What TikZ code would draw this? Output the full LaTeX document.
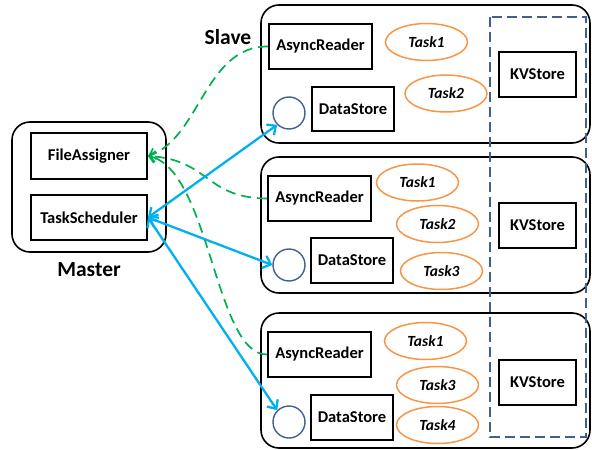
\documentclass[tikz,border=0pt]{standalone}
\usepackage{fontspec}
\setmainfont{Carlito}
\usetikzlibrary{arrows.meta,shapes.geometric}

\definecolor{feedgreen}{RGB}{0,176,80}
\definecolor{linkblue}{RGB}{0,176,240}
\definecolor{taskorange}{RGB}{247,150,70}
\definecolor{storeblue}{RGB}{65,95,145}

\tikzset{box/.style={draw,line width=2pt,inner sep=0pt,font=\bfseries\fontsize{16.5}{18}\selectfont},
  frame/.style={draw,line width=1.6pt,rounded corners=18pt,inner sep=0pt},
  task/.style={ellipse,draw=taskorange,line width=1.5pt,minimum width=82,minimum height=37,inner sep=0pt,font=\bfseries\itshape\fontsize{15.5}{18}\selectfont},
  store/.style={circle,draw=storeblue,line width=1.4pt,minimum size=32,inner sep=0pt},
  title/.style={font=\bfseries\fontsize{21.5}{24}\selectfont,inner sep=0pt},
  link/.style={linkblue,line width=2.3pt,{Straight Barb[length=7pt,width=13pt]}-{Straight Barb[length=7pt,width=13pt]}},
  feed/.style={feedgreen,line width=1.7pt,dash pattern=on 10pt off 6pt,-{Straight Barb[length=6pt,width=11pt]}}}

\begin{document}
\begin{tikzpicture}[x=1pt,y=-1pt]
                  \useasboundingbox (0,0) rectangle (592,450);
                  \node[frame,minimum width=329,minimum height=138] (slave1) at (425.5,74) {};
                  \node[frame,minimum width=329,minimum height=136] (slave2) at (425.5,225) {};
                  \node[frame,minimum width=329,minimum height=135] (slave3) at (425.5,380.5) {};
                  \node[frame,minimum width=154,minimum height=130] (master) at (89,187) {};
                  \draw[storeblue,line width=1.5pt,dash pattern=on 10pt off 5pt] (490,17) rectangle (586,437);
                  \node[title] (mastertxt) at (89,270) {Master};
                  \node[title] (slavetxt) at (228,37) {Slave};
                  \node[box,minimum width=116,minimum height=46] (fa) at (89,156) {FileAssigner};
                  \node[box,minimum width=116,minimum height=45] (ts) at (89,217.5) {TaskScheduler};

                  \node[box,minimum width=103,minimum height=45] (ar1) at (320.5,46.5) {AsyncReader};
                  \node[box,minimum width=82,minimum height=44] (ds1) at (353,109) {DataStore};
                  \node[store] (c1) at (289,113) {};
                  \node[task] (t11) at (426.5,42) {Task1};
                  \node[task] (t12) at (446,93.5) {Task2};
                  \node[box,minimum width=77,minimum height=45] (kv1) at (537.5,74.5) {KVStore};

                  \node[box,minimum width=103,minimum height=45] (ar2) at (319.5,198.5) {AsyncReader};
                  \node[box,minimum width=82,minimum height=45] (ds2) at (352,260.5) {DataStore};
                  \node[store] (c2) at (289,265) {};
                  \node[task] (t21) at (417.5,182.5) {Task1};
                  \node[task] (t22) at (437.5,224) {Task2};
                  \node[task] (t23) at (441.5,271) {Task3};
                  \node[box,minimum width=77,minimum height=45] (kv2) at (537.5,225.5) {KVStore};

                  \node[box,minimum width=103,minimum height=45] (ar3) at (319.5,354.5) {AsyncReader};
                  \node[box,minimum width=82,minimum height=45] (ds3) at (352,417.5) {DataStore};
                  \node[store] (c3) at (289,422) {};
                  \node[task] (t31) at (425.5,341) {Task1};
                  \node[task] (t33) at (437.5,385) {Task3};
                  \node[task] (t34) at (437.5,425) {Task4};
                  \node[box,minimum width=77,minimum height=45] (kv3) at (537.5,382.5) {KVStore};

                  \draw[feed] (ar1.west) .. controls (205,46) and (200,138) .. (fa.east);
                  \draw[feed] (ar2.west) .. controls (205,198) and (210,160) .. (fa.east);
                  \draw[feed] (ar3.west) .. controls (215,355) and (210,170) .. (fa.east);
                  \draw[link] (ts.east) -- (c1.225);
                  \draw[link] (ts.east) -- (c2.west);
                  \draw[link] (ts.east) -- (c3.135);
              \end{tikzpicture}
\end{document}
